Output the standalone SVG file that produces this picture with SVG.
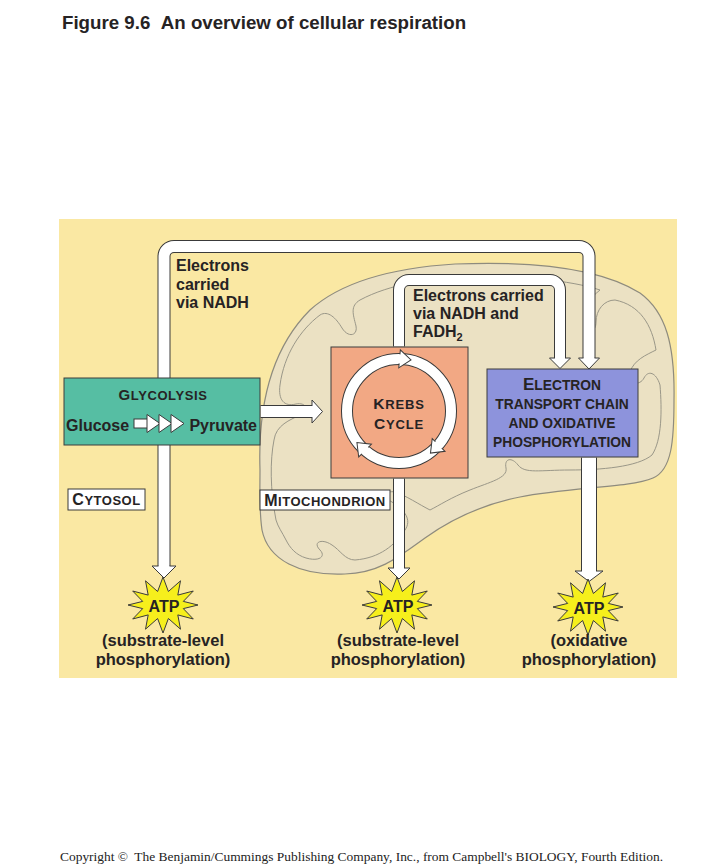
<svg xmlns="http://www.w3.org/2000/svg" width="715" height="864" viewBox="0 0 715 864">
<defs>
<style>
.t{font-family:"Liberation Sans",Arial,Helvetica,sans-serif;font-weight:bold;fill:#262324}
.box{stroke:#3c3c3c;stroke-width:1}
.to{fill:none;stroke:#3a3a3a}
.ti{fill:none;stroke:#ffffff}
.head{fill:#ffffff;stroke:#3a3a3a;stroke-width:1}
.lbl{fill:#ffffff;stroke:#3a3a3a;stroke-width:1}
.cap{font-size:16.5px;text-anchor:middle}
.mem{fill:none;stroke:#9a9788;stroke-width:1}
</style>
<polygon id="star" points="0,-28 5.4,-13.5 17.5,-24.2 14.8,-9.9 30.3,-14 20.3,-3.6 35,0 20.3,3.6 30.3,14 14.8,9.9 17.5,24.2 5.4,13.5 0,28 -5.4,13.5 -17.5,24.2 -14.8,9.9 -30.3,14 -20.3,3.6 -35,0 -20.3,-3.6 -30.3,-14 -14.8,-9.9 -17.5,-24.2 -5.4,-13.5" fill="#F6EF1C" stroke="#3a3a3a" stroke-width="1" stroke-linejoin="miter"/>
<path id="ringhead" d="M395,354.5 V350 L406.5,359 L395,368 V363.5" class="head"/>
</defs>

<rect x="0" y="0" width="715" height="864" fill="#ffffff"/>
<rect id="panel" x="59" y="219" width="618" height="459" fill="#FAE8A3"/>

<g id="mitochondrion">
<path d="M260,470 C258,410 270,350 310,310 C340,283 390,268 455,264 C530,261 600,268 640,293 C666,312 675,345 674,400 C674,440 672,470 653,478 C630,488 570,487 520,497 C480,505 450,520 425,538 C400,556 380,573 345,574 C300,576 268,560 262,530 C259,510 260,490 260,470 Z" fill="#EBE1C3" stroke="#8E8B7E" stroke-width="1.2"/>
<path class="mem" d="M276,520 C270,490 270,460 274,440 C276,425 290,420 300,415 C310,410 306,402 296,404 C284,407 278,400 280,385 C284,355 300,330 320,315 C328,310 336,318 342,328 C348,338 358,336 356,326 C353,314 350,306 360,300 C390,284 430,278 470,277 C520,276 570,280 600,290 C590,298 582,308 584,320 C586,332 596,334 596,322 C596,310 604,300 615,300 C640,305 652,325 656,350 C646,355 634,360 630,372 C628,385 640,386 644,378 C648,370 656,372 660,385 C662,410 662,440 652,455 C638,467 600,470 570,470 C540,470 525,474 518,465 C512,457 504,458 506,468 C508,478 490,482 470,490 C450,498 440,505 430,510 C420,505 405,495 395,492 C385,490 384,498 392,502 C405,510 412,520 405,530 C395,545 380,558 355,560 C345,560 340,550 332,545 C322,538 312,542 320,550 C326,556 320,562 306,558 C296,555 290,548 286,540 C282,532 278,527 276,520 Z"/>
</g>

<g id="connectors">
<path class="to" stroke-width="13" d="M164,567 V256.5 A10,10 0 0 1 174,246.5 H579 A10,10 0 0 1 589,256.5 V359"/>
<path class="ti" stroke-width="11" d="M164,567 V256.5 A10,10 0 0 1 174,246.5 H579 A10,10 0 0 1 589,256.5 V359"/>
<path class="head" d="M158.5,566 H152 L164,578 L176,566 H169.5"/>
<path class="head" d="M583.5,358 H578.5 L589,369 L599.5,358 H594.5"/>
<path class="to" stroke-width="12" d="M399,346.5 V290 A10,10 0 0 1 409,280 H550 A10,10 0 0 1 560,290 V359"/>
<path class="ti" stroke-width="10" d="M399,346.5 V290 A10,10 0 0 1 409,280 H550 A10,10 0 0 1 560,290 V359"/>
<path class="head" d="M555,358 H549.5 L560,368.5 L570.5,358 H565"/>
<path class="to" stroke-width="13" d="M260.5,411.5 H313"/>
<path class="ti" stroke-width="11" d="M260.5,411.5 H313"/>
<path class="head" d="M312,406 V400 L322.5,411.5 L312,423 V417"/>
<path class="to" stroke-width="12" d="M399,478.5 V569"/>
<path class="ti" stroke-width="10" d="M399,478.5 V569"/>
<path class="head" d="M394,568 H388 L399,579 L410,568 H404"/>
<path class="to" stroke-width="16" d="M589,457.5 V572"/>
<path class="ti" stroke-width="14" d="M589,457.5 V572"/>
<path class="head" d="M582,571 H575 L589,581.5 L603,571 H596"/>
</g>

<g id="glycolysis">
<rect class="box" x="64" y="378" width="196" height="67" fill="#56BEA3"/>
<text class="t" x="163" y="400" text-anchor="middle" letter-spacing="0.6"><tspan font-size="15">G</tspan><tspan font-size="13">LYCOLYSIS</tspan></text>
<text class="t" x="66" y="431" font-size="16">Glucose</text>
<text class="t" x="257" y="431" font-size="16" text-anchor="end">Pyruvate</text>
<rect x="134" y="419" width="14" height="9" fill="#fff" stroke="#3a3a3a" stroke-width="1"/>
<polygon points="147,414.5 160,423.5 147,432.5" class="head"/>
<polygon points="159,414.5 172,423.5 159,432.5" class="head"/>
<polygon points="171,414.5 184,423.5 171,432.5" class="head"/>
</g>

<g id="krebs">
<rect class="box" x="331" y="347" width="137" height="131" fill="#F2A884"/>
<circle cx="399" cy="411" r="52" fill="none" stroke="#3a3a3a" stroke-width="12"/>
<circle cx="399" cy="411" r="52" fill="none" stroke="#ffffff" stroke-width="10"/>
<use href="#ringhead" transform="rotate(5 399 411)"/>
<use href="#ringhead" transform="rotate(135 399 411)"/>
<use href="#ringhead" transform="rotate(225 399 411)"/>
<text class="t" x="399" y="409" text-anchor="middle" letter-spacing="0.8"><tspan font-size="15.5">K</tspan><tspan font-size="13">REBS</tspan></text>
<text class="t" x="399" y="429" text-anchor="middle" letter-spacing="0.8"><tspan font-size="15.5">C</tspan><tspan font-size="13">YCLE</tspan></text>
</g>

<g id="etc">
<rect class="box" x="487" y="369" width="151" height="88" fill="#8D93DC"/>
<text class="t" x="562" y="390" text-anchor="middle"><tspan font-size="17">E</tspan><tspan font-size="13.8">LECTRON</tspan></text>
<text class="t" x="562" y="409" text-anchor="middle" font-size="13.8">TRANSPORT CHAIN</text>
<text class="t" x="562" y="428" text-anchor="middle" font-size="13.8">AND OXIDATIVE</text>
<text class="t" x="562" y="447" text-anchor="middle" font-size="13.8">PHOSPHORYLATION</text>
</g>

<g id="label-nadh">
<text class="t" font-size="16"><tspan x="176" y="271">Electrons</tspan><tspan x="176" y="289.5">carried</tspan><tspan x="176" y="308">via NADH</tspan></text>
</g>
<g id="label-nadh-fadh">
<text class="t" font-size="16"><tspan x="413" y="301">Electrons carried</tspan><tspan x="413" y="319">via NADH and</tspan><tspan x="413" y="337">FADH</tspan><tspan font-size="11" dy="4">2</tspan></text>
</g>

<g id="cytosol">
<rect class="lbl" x="68" y="489" width="77" height="21"/>
<text class="t" x="106.5" y="505" text-anchor="middle" letter-spacing="0.5"><tspan font-size="16">C</tspan><tspan font-size="13">YTOSOL</tspan></text>
</g>
<g id="mito-label">
<rect class="lbl" x="260" y="490" width="130" height="20"/>
<text class="t" x="325" y="506" text-anchor="middle" letter-spacing="0.5"><tspan font-size="16">M</tspan><tspan font-size="13">ITOCHONDRION</tspan></text>
</g>

<g id="atp1">
<use href="#star" transform="translate(163 605)"/>
<text class="t" x="164" y="611.5" font-size="16" text-anchor="middle">ATP</text>
<text class="t cap" x="163" y="646">(substrate-level</text>
<text class="t cap" x="163" y="665">phosphorylation)</text>
</g>
<g id="atp2">
<use href="#star" transform="translate(397 605)"/>
<text class="t" x="398" y="611.5" font-size="16" text-anchor="middle">ATP</text>
<text class="t cap" x="398" y="646">(substrate-level</text>
<text class="t cap" x="398" y="665">phosphorylation)</text>
</g>
<g id="atp3">
<use href="#star" transform="translate(588 607)"/>
<text class="t" x="589" y="613.5" font-size="16" text-anchor="middle">ATP</text>
<text class="t cap" x="589" y="646">(oxidative</text>
<text class="t cap" x="589" y="665">phosphorylation)</text>
</g>

<text id="title" class="t" x="62" y="29" font-size="18.7" fill="#333">Figure 9.6<tspan dx="10.5">An overview of cellular respiration</tspan></text>
<text id="copyright" x="60" y="861" font-family="'Liberation Serif','Times New Roman',serif" font-size="12.5" fill="#222" textLength="603" lengthAdjust="spacingAndGlyphs">Copyright © <tspan dx="3">The Benjamin/Cummings Publishing Company, Inc., from Campbell's BIOLOGY, Fourth Edition.</tspan></text>
</svg>
